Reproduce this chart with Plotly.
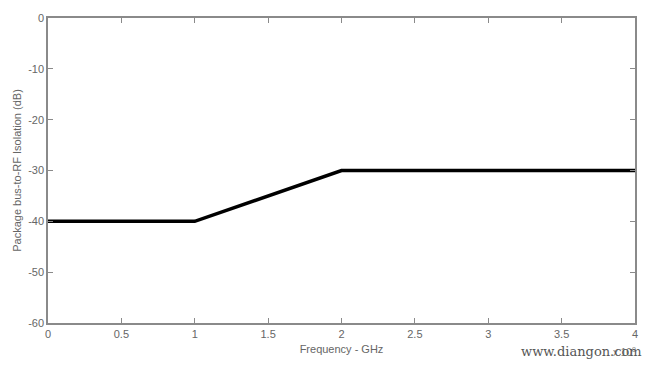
import plotly.graph_objects as go

freq = [0, 1, 2, 4]
isolation = [-40, -40, -30, -30]
x_ticks = [0, 0.5, 1, 1.5, 2, 2.5, 3, 3.5, 4]
x_labels = ["0", "0.5", "1", "1.5", "2", "2.5", "3", "3.5", "4"]
y_ticks = [0, -10, -20, -30, -40, -50, -60]
y_labels = ["0", "-10", "-20", "-30", "-40", "-50", "-60"]

fig = go.Figure()
fig.add_trace(go.Scatter(x=freq, y=isolation, mode="lines",
                         line=dict(color="black", width=3.5), showlegend=False))

axis_common = dict(showline=True, linecolor="#8a8a8a", linewidth=1.5, mirror="ticks",
                   ticks="inside", ticklen=5, tickcolor="#8a8a8a", showgrid=False,
                   zeroline=False, tickfont=dict(color="#666666", size=11))
fig.update_xaxes(range=[0, 4], tickvals=x_ticks, ticktext=x_labels,
                 title=dict(text="Frequency - GHz", font=dict(color="#666666", size=11), standoff=6),
                 **axis_common)
fig.update_yaxes(range=[-60, 0], tickvals=y_ticks, ticktext=y_labels,
                 title=dict(text="Package bus-to-RF Isolation (dB)", font=dict(color="#666666", size=11), standoff=4),
                 **axis_common)

fig.add_annotation(text="x 10<sup>9</sup>", xref="paper", yref="paper", x=1.005, y=-0.07,
                   showarrow=False, xanchor="right", yanchor="top",
                   font=dict(color="#777777", size=10))
fig.add_annotation(text="www.diangon.com", xref="paper", yref="paper", x=1.015, y=-0.094,
                   showarrow=False, xanchor="right", yanchor="middle",
                   font=dict(color="#555555", size=13, family="DejaVu Serif"))

fig.update_layout(width=650, height=367, margin=dict(l=48, r=13, t=15, b=44),
                  paper_bgcolor="white", plot_bgcolor="white",
                  font=dict(family="Liberation Sans, Arial, sans-serif", color="#666666"))
fig.write_html("out.html")
